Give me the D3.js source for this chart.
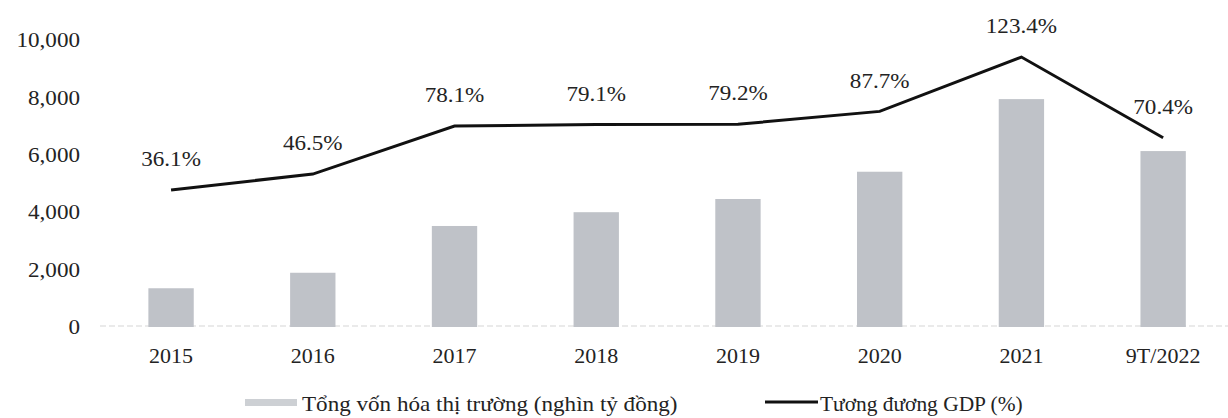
<!DOCTYPE html>
<html>
<head>
<meta charset="utf-8">
<script src="https://cdn.jsdelivr.net/npm/d3@7"></script>
<style>
  html, body { margin: 0; padding: 0; background: #fff; }
  svg { display: block; font-family: "Liberation Serif", "Times New Roman", serif; }
</style>
</head>
<body>
<svg id="chart" width="1228" height="418"></svg>
<script>
// ---- data ----
const categories = ["2015", "2016", "2017", "2018", "2019", "2020", "2021", "9T/2022"];
const marketCap = [1350, 1890, 3520, 4000, 4460, 5410, 7940, 6130];   // nghìn tỷ đồng
const gdpRatio = [36.1, 46.5, 78.1, 79.1, 79.2, 87.7, 123.4, 70.4];    // %
const gdpLabels = ["36.1%", "46.5%", "78.1%", "79.1%", "79.2%", "87.7%", "123.4%", "70.4%"];
const yTicks = [0, 2000, 4000, 6000, 8000, 10000];
const yTickLabels = ["0", "2,000", "4,000", "6,000", "8,000", "10,000"];
const legendLabels = ["Tổng vốn hóa thị trường (nghìn tỷ đồng)", "Tương đương GDP (%)"];

// ---- layout ----
const svg = d3.select("#chart");
const plotTop = 40, plotBottom = 327;
const sx = 1.1; // slight horizontal stretch of the scanned text

const x = d3.scaleBand().domain(categories).range([100.2, 1234])
  .paddingInner(0.68).paddingOuter(0.34);
const y = d3.scaleLinear().domain([0, 10000]).range([plotBottom, plotTop]);
const y2 = d3.scaleLinear().domain([-54, 134.6]).range([plotBottom, plotTop]);

const textColor = "#232323";
const barColor = "#bfc2c8";

function stretchedText(g, tx, ty, str, size, anchor, scaleX) {
  return g.append("text")
    .attr("transform", `translate(${tx},${ty}) scale(${scaleX || sx},1)`)
    .attr("text-anchor", anchor || "middle")
    .attr("dominant-baseline", "central")
    .attr("font-size", size)
    .attr("fill", textColor)
    .text(str);
}

// baseline
svg.append("line")
  .attr("x1", 100).attr("x2", 1228)
  .attr("y1", y(0) - 1).attr("y2", y(0) - 1)
  .attr("stroke", "#d6d6d6").attr("stroke-width", 1.2)
  .attr("stroke-dasharray", "6,3");

// y axis labels (no line)
const yAxis = d3.axisLeft(y).tickValues(yTicks)
  .tickFormat((d, i) => yTickLabels[i]).tickSize(0).tickPadding(0);
const yg = svg.append("g").attr("transform", "translate(80,0)").call(yAxis);
yg.select(".domain").remove();
yg.selectAll("text")
  .attr("font-size", 21)
  .attr("font-family", "Liberation Serif, serif")
  .attr("fill", textColor)
  .attr("x", 0)
  .attr("transform", `scale(${sx},1)`);

// bars
svg.append("g").selectAll("rect")
  .data(marketCap)
  .join("rect")
  .attr("x", (d, i) => x(categories[i]))
  .attr("width", x.bandwidth())
  .attr("y", d => y(d))
  .attr("height", d => y(0) - y(d))
  .attr("fill", barColor);

// x axis labels
const xAxis = d3.axisBottom(x).tickSize(0).tickPadding(0);
const xg = svg.append("g").attr("transform", `translate(0,${plotBottom + 28})`).call(xAxis);
xg.select(".domain").remove();
xg.selectAll("text")
  .attr("font-size", 22)
  .attr("font-family", "Liberation Serif, serif")
  .attr("fill", textColor)
  .attr("dy", null)
  .attr("dominant-baseline", "central");

// line
const cx = (i) => x(categories[i]) + x.bandwidth() / 2;
const line = d3.line().x((d, i) => cx(i)).y(d => y2(d));
svg.append("path")
  .datum(gdpRatio)
  .attr("d", line)
  .attr("fill", "none")
  .attr("stroke", "#111")
  .attr("stroke-width", 3)
  .attr("stroke-linejoin", "miter");

// line labels
const lg = svg.append("g");
gdpRatio.forEach((v, i) => {
  stretchedText(lg, cx(i), y2(v) - 31, gdpLabels[i], 21);
});

// legend
const leg = svg.append("g");
leg.append("rect")
  .attr("x", 245).attr("y", 399).attr("width", 52).attr("height", 7)
  .attr("fill", "#cdd0d4");
stretchedText(leg, 302, 404, legendLabels[0], 21, "start");
leg.append("line")
  .attr("x1", 765).attr("x2", 818).attr("y1", 402).attr("y2", 402)
  .attr("stroke", "#111").attr("stroke-width", 3);
stretchedText(leg, 820, 404, legendLabels[1], 21, "start", 1.02);
</script>
</body>
</html>
